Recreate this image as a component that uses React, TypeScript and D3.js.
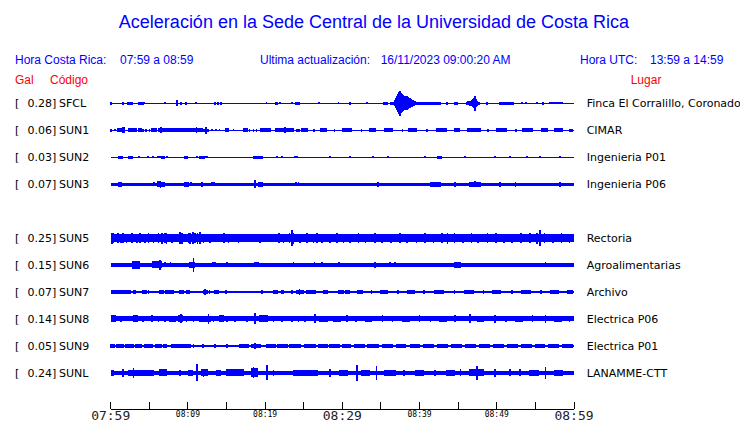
import React from 'react';
import * as d3 from 'd3';

// ---- data ----
const CODES = ['SFCL', 'SUN1', 'SUN2', 'SUN3', 'SUN5', 'SUN6', 'SUN7', 'SUN8', 'SUN9', 'SUNL'];
const ROWS = [0, 1, 2, 3, 5, 6, 7, 8, 9, 10];
const GAL = [0.28, 0.06, 0.03, 0.07, 0.25, 0.15, 0.07, 0.14, 0.05, 0.24];
const PLACES = ['Finca El Corralillo, Coronado', 'CIMAR', 'Ingenieria P01', 'Ingenieria P06', 'Rectoria',
  'Agroalimentarias', 'Archivo', 'Electrica P06', 'Electrica P01', 'LANAMME-CTT'];
// continuous noise level (half amplitude) per trace
const BASE = [0.5, 0.7, 0.5, 1.5, 3.6, 1.6, 1.3, 2.4, 0.8, 2.1];

// bursts: [minute, amplitude]  or [start minute, end minute, amplitude]
type Ev = number[];
const SFCL_EV: Ev[] = [
  [0.0, 1.5], [1.6, 1.2], [2.2, 2.6, 1.3], [2.8, 1.2], [3.7, 3.9, 1.3], [4.2, 1.2], [4.4, 1.0], [7.0, 1.0],
  [8.6, 3.0], [9.1, 1.2], [9.75, 1.2], [11.05, 1.0], [13.5, 1.5], [13.9, 1.5], [14.3, 1.5], [17.1, 0.8],
  [17.4, 0.8], [20.2, 1.0], [21.4, 21.5, 1.3], [21.9, 1.0], [23.5, 1.0], [24.0, 24.4, 1.5],
  [27.0, 1.0], [29.5, 1.0], [31.0, 1.2], [33.2, 1.0],
  [35.4, 35.8, 1.3], [36.3, 36.6, 1.3],
  [36.83, 3], [36.96, 5], [37.09, 7], [37.22, 9], [37.35, 11], [37.48, 12.5], [37.61, 10], [37.74, 9],
  [37.87, 8], [38.0, 7], [38.13, 6], [38.26, 7], [38.39, 7], [38.51, 6], [38.64, 5], [38.77, 5],
  [38.9, 4], [39.03, 3.5], [39.16, 3], [39.29, 2.5], [39.42, 2],
  [39.7, 42.7, 1.3], [43.56, 1.2], [44.6, 44.85, 1.3],
  [46.15, 1.5], [46.3, 2], [46.5, 2.5], [46.8, 3], [46.9, 4], [47.05, 5], [47.2, 7.5], [47.3, 4], [47.45, 2.5],
  [47.7, 1.5], [48.75, 1.3], [50.4, 52.1, 1.3], [53.3, 1.0], [53.8, 1.0], [55.2, 1.0], [56.0, 1.2], [56.9, 58.5, 1.0],
];
const SUN1_EV: Ev[] = [
  [0, 0.1, 1.5], [0.56, 1.2], [0.86, 1.42, 1.8], [1.55, 1.72, 3], [2.28, 3.28, 1.8], [3.7, 4.0, 1.8], [4.2, 1.5],
  [4.57, 1.5], [5.0, 1.5], [5.3, 5.87, 1.8], [6.17, 6.8, 2.2], [6.5, 3], [7.03, 10.05, 1.8], [10.27, 11.8, 2],
  [11.1, 3], [12.1, 1.5], [12.35, 3.5], [12.6, 1.5], [13.1, 1.2], [13.6, 1.2], [14.1, 1.2], [14.9, 15.2, 1.8],
  [15.9, 1.2], [17.3, 17.7, 1.8], [17.95, 1.5], [18.5, 1.5], [18.9, 1.5], [19.5, 20.1, 1.8], [20.4, 20.7, 1.8],
  [21.4, 23.65, 1.8], [22.6, 2.8], [24.1, 1.5], [24.35, 1.5],
  [24.8, 25.5, 1.8], [26.3, 1.5], [27.2, 27.9, 1.8], [29.0, 1.5], [30.0, 31.2, 1.8], [32.5, 1.5], [33.6, 34.3, 1.8],
  [35.5, 36.5, 1.8], [37.8, 1.5], [38.6, 39.6, 1.8], [41.0, 1.5], [42.2, 43.4, 1.8], [44.6, 45.1, 1.8],
  [46.3, 47.8, 2], [48.9, 1.5], [50.0, 51.2, 1.8], [52.5, 1.5], [53.4, 54.6, 1.8], [55.8, 56.5, 1.8],
  [57.5, 58.5, 1.8], [59.4, 59.8, 1.5],
];
const SUN2_EV: Ev[] = [
  [1.09, 1.46, 1.5], [2.37, 2.76, 1.5], [3.67, 1.2], [4.83, 1.2], [5.48, 1], [6.13, 6.39, 1.3], [6.64, 6.9, 1.5],
  [7.3, 1], [9.62, 9.88, 1.5], [11.2, 1.2], [11.57, 12.09, 1.5], [12.35, 1.2], [12.47, 1.2], [18.57, 18.96, 1.5],
  [19.2, 19.6, 1.5], [21.5, 1], [22.2, 1], [23.87, 24.1, 1.3],
  [28.4, 1.2], [31.0, 1.2], [34.0, 1.3], [35.9, 1.2], [40.7, 1.2], [42.4, 42.8, 1.5], [45.9, 1.2], [49.8, 1.2],
  [51.7, 1.2], [53.9, 1.3], [55.6, 1.2], [58.2, 1.3],
];
const SUN3_EV: Ev[] = [
  [1.07, 2.5], [1.33, 2.5], [5.6, 2], [6.13, 6.39, 3], [6.64, 6.9, 2.5], [6.45, 3.5], [9.6, 9.9, 2.5],
  [10.1, 2.5], [10.4, 2], [11.8, 2.5], [13.1, 2], [13.4, 2], [18.7, 4], [19.2, 19.6, 2.5], [24.0, 2], [24.3, 2],
  [34.6, 2.5], [41.4, 42.7, 2.5], [44.6, 2.5], [46.5, 47.8, 2.5], [47.2, 3], [50.4, 2.5], [52.4, 2.5], [58.2, 2.5],
];
const SUN5_EV: Ev[] = [
  [0.13, 5.5], [0.34, 5], [0.98, 5], [1.3, 4.5], [1.63, 5], [2.07, 4.5], [2.72, 5], [3.37, 4.5], [3.8, 5],
  [4.44, 4.5], [4.87, 5], [5.52, 4.5], [6.17, 5], [6.61, 5.5], [7.03, 5], [7.25, 5.5], [7.9, 4.5], [8.98, 6],
  [9.2, 5.5], [10.05, 5], [10.27, 5.5], [10.62, 6], [10.92, 5], [11.22, 5.5], [11.57, 6], [12.0, 4.5],
  [12.86, 4.5], [13.51, 4], [14.68, 5], [15.23, 4.5], [15.88, 4], [16.53, 4.5], [17.18, 4], [17.82, 4],
  [18.69, 4], [19.34, 4.5], [20.41, 4], [21.8, 5], [22.36, 4.5], [23.13, 5], [23.45, 8], [23.65, 5.5],
  [24.52, 4.5], [25.39, 5], [26.24, 4.5], [26.68, 5], [27.33, 4.5], [28.41, 4.5], [29.27, 5], [30.13, 4.5],
  [31.0, 4.5], [32.1, 5], [33.0, 4.5], [34.2, 5], [35.1, 4.5], [36.3, 4.5], [37.5, 5], [38.4, 4.5], [39.6, 4.5],
  [40.7, 5], [41.8, 4.5], [42.9, 5], [43.6, 5.5], [44.5, 5], [45.6, 4.5], [46.7, 5], [47.6, 4.5], [48.8, 5],
  [49.9, 5], [50.9, 4.5], [52.0, 4.5], [53.1, 5], [54.3, 5], [55.2, 5.5], [55.6, 8], [56.2, 5], [57.3, 4.5],
  [58.4, 5], [59.4, 4.5],
];
const SUN6_EV: Ev[] = [
  [2.07, 2.3], [2.41, 2], [2.89, 3.15, 4], [3.41, 3.67, 4], [5.44, 5.61, 3.5], [5.87, 6.48, 3.5], [6.39, 5],
  [7.03, 2.5], [7.77, 2.5], [8.98, 2.3], [9.62, 2.3], [10.27, 10.79, 3], [10.7, 7], [11.96, 2.3], [12.44, 2.3],
  [13.25, 13.51, 2.5], [14.5, 2.3], [15.03, 2.5], [16.66, 2.3], [18.69, 19.08, 2.5], [22.15, 2.3], [23.65, 2.5],
  [26.37, 2.5], [27.33, 2.5], [27.98, 2.3], [29.6, 2.5],
  [34.2, 3], [36.2, 2.5], [36.8, 2.5], [44.6, 45.2, 3], [47.6, 2.3], [48.7, 2.3], [51.7, 2.3], [53.0, 2.3], [56.3, 2.5],
];
const SUN7_EV: Ev[] = [
  [0.13, 1.2, 2.2], [1.42, 1.63, 2.2], [1.85, 2.5, 2.2], [2.93, 3.15, 2.2], [4.22, 4.66, 2.2], [4.87, 2],
  [6.39, 6.81, 2.2], [7.16, 8.03, 2.2], [8.98, 9.4, 2.2], [9.92, 10.18, 2.2], [12.09, 12.44, 2.2], [12.2, 3],
  [12.77, 2], [13.51, 13.94, 2.2], [14.94, 2.2], [19.56, 2], [21.06, 21.5, 2], [22.15, 22.36, 2], [23.45, 2],
  [24.1, 24.95, 2.2], [24.43, 3], [25.39, 26.46, 2.2], [27.54, 27.98, 2.2], [29.6, 30.05, 2.2], [30.48, 30.91, 2.2],
  [32.0, 32.6, 2.2], [33.8, 2.2], [35.0, 35.8, 2.2], [37.2, 2.2], [38.5, 39.3, 2.2], [40.6, 2.2], [42.0, 43.0, 2.2],
  [44.5, 2.2], [45.8, 46.9, 2.2], [48.3, 2.2], [49.5, 50.4, 2.2], [52.0, 2.2], [53.3, 54.3, 2.2], [55.7, 2.2],
  [57.0, 58.0, 2.2], [59.2, 59.8, 2.2],
];
const SUN8_EV: Ev[] = [
  [0.13, 0.56, 3.5], [1.3, 3], [2.93, 3.37, 3.5], [4.22, 3], [5.31, 3.5], [6.17, 3], [7.03, 3], [7.68, 8.33, 3.2],
  [8.76, 9.2, 3.5], [9.07, 4.5], [9.84, 3], [10.7, 3], [11.57, 12.86, 3.2], [12.65, 5], [13.29, 3],
  [14.16, 14.59, 3.5], [15.03, 3], [16.1, 3], [17.62, 3], [18.69, 5.5], [19.34, 20.21, 3.5], [21.06, 3],
  [22.15, 3], [23.45, 3], [24.3, 3], [25.17, 3], [26.46, 4.5], [27.11, 27.98, 3.2], [28.83, 29.7, 3.2], [30.57, 3.5],
  [31.8, 3.2], [33.0, 33.8, 3.2], [35.2, 3.5], [36.5, 3.2], [37.8, 38.6, 3.2], [40.0, 3.5], [41.4, 3.2],
  [42.6, 43.5, 3.2], [44.6, 3.5], [46.5, 4.5], [47.5, 48.3, 3.2], [49.8, 4], [51.2, 3.2], [52.5, 53.3, 3.2],
  [54.6, 3.5], [56.3, 4], [57.5, 58.3, 3.2], [59.4, 3.2],
];
const SUN9_EV: Ev[] = [
  [0.0, 0.5, 1.8], [0.8, 1.6, 1.8], [2.0, 2.9, 1.8], [3.3, 4.0, 1.8], [4.4, 5.4, 1.8], [5.8, 6.6, 1.8],
  [6.9, 7.25, 1.8], [7.9, 8.7, 1.8], [9.0, 10.27, 1.8], [10.7, 1.8], [11.96, 1.8], [13.5, 1.8], [15.03, 1.8],
  [16.75, 17.82, 1.8], [18.26, 19.34, 2], [18.69, 3], [20.2, 21.3, 1.8], [21.7, 22.8, 1.8], [23.2, 24.5, 1.8],
  [25.2, 26.5, 1.8], [26.9, 28.0, 1.8], [28.4, 29.6, 1.8], [30.0, 31.0, 1.8],
  [31.6, 32.8, 1.8], [33.3, 34.6, 1.8], [35.2, 36.4, 1.8], [37.0, 38.2, 1.8], [38.8, 40.0, 1.8], [40.6, 41.8, 1.8],
  [42.4, 43.6, 1.8], [44.2, 45.4, 1.8], [46.0, 47.2, 1.8], [47.8, 49.0, 1.8], [49.6, 50.8, 1.8], [51.4, 52.6, 1.8],
  [53.2, 54.4, 1.8], [55.0, 56.2, 1.8], [56.8, 58.0, 1.8], [58.6, 59.8, 1.8],
];
const SUNL_EV: Ev[] = [
  [0.13, 0.34, 3], [1.63, 4], [2.28, 4.22, 3], [2.93, 5], [4.22, 5.52, 3], [6.3, 7.25, 3.5], [8.98, 3],
  [10.05, 10.49, 3], [11.14, 8.5], [11.79, 12.44, 3.5], [12.0, 4], [13.73, 14.16, 3], [15.03, 17.18, 3.5],
  [18.26, 18.91, 4.5], [18.47, 5.5], [20.21, 7.5], [21.06, 3], [23.65, 26.68, 3], [28.41, 4], [29.7, 30.57, 3],
  [31.9, 8], [32.5, 33.5, 3], [34.4, 7], [35.5, 36.8, 3], [38.0, 3], [39.5, 40.5, 3], [42.0, 3], [43.5, 44.5, 3],
  [45.3, 3.5], [46.5, 48.2, 3.5], [47.4, 7], [49.8, 4], [51.7, 3.5], [53.0, 3.5], [54.3, 55.3, 3], [56.3, 6],
  [57.5, 58.5, 3],
];
const EVENTS = [SFCL_EV, SUN1_EV, SUN2_EV, SUN3_EV, SUN5_EV, SUN6_EV, SUN7_EV, SUN8_EV, SUN9_EV, SUNL_EV];

const TICK_MINUTES = d3.range(0, 61, 5);
const MAJOR_LABELS: [number, string][] = [[0, '07:59'], [30, '08:29'], [60, '08:59']];
const MINOR_LABELS: [number, string][] = [[10, '08:09'], [20, '08:19'], [40, '08:39'], [50, '08:49']];

const TITLE = 'Aceleración en la Sede Central de la Universidad de Costa Rica';

export default function App() {
  const W = 740, H = 423;
  const x = d3.scaleLinear().domain([0, 60]).range([110.7, 574]);
  const y = d3.scalePoint<number>().domain(d3.range(11)).range([103.3, 372.7]);
  const amp = d3.scaleLinear().domain([0, 14]).range([0, 14]);
  const blue = '#0000ff';
  const red = '#ff0000';
  const sans = '"Liberation Sans", Arial, sans-serif';
  const dv = '"DejaVu Sans", sans-serif';
  const mono = '"DejaVu Sans Mono", monospace';
  const axisY = 409;

  return (
    <svg width={W} height={H} style={{ position: 'absolute', left: 0, top: 0, background: '#fff' }}>
      <rect x={0} y={0} width={W} height={H} fill="#fff" />
      <text x={374} y={28} textAnchor="middle" fontFamily={sans} fontSize={18} fill={blue}>{TITLE}</text>
      <g fontFamily={sans} fontSize={12} fill={blue}>
        <text x={15} y={64}>Hora Costa Rica:</text>
        <text x={120} y={64}>07:59 a 08:59</text>
        <text x={260} y={64}>Ultima actualización:</text>
        <text x={380.7} y={64}>16/11/2023 09:00:20 AM</text>
        <text x={580} y={64}>Hora UTC:</text>
        <text x={650} y={64}>13:59 a 14:59</text>
      </g>
      <g fontFamily={sans} fontSize={12} fill={red}>
        <text x={15} y={84}>Gal</text>
        <text x={50} y={84}>Código</text>
        <text x={630.7} y={84}>Lugar</text>
      </g>
      {CODES.map((code, i) => {
        const cy = y(ROWS[i]) as number;
        const b = Math.max(amp(BASE[i]), 0.5);
        return (
          <g key={code}>
            <text x={15} y={cy + 4} fontFamily={dv} fontSize={11} fill="#000">[</text>
            <text x={27.5} y={cy + 4} fontFamily={dv} fontSize={11} fill="#000">{GAL[i].toFixed(2) + ']'}</text>
            <text x={59} y={cy + 4} fontFamily={dv} fontSize={11} fill="#000">{code}</text>
            <text x={586.7} y={cy + 4} fontFamily={dv} fontSize={11} fill="#000">{PLACES[i]}</text>
            <g fill={blue} shapeRendering="crispEdges">
              <rect x={x(0)} y={cy - b} width={x(60) - x(0)} height={2 * b} />
              {EVENTS[i].map((e, j) => {
                const m0 = e[0];
                const m1 = e.length === 3 ? e[1] : e[0];
                const a = amp(e[e.length - 1]);
                return <rect key={j} x={x(m0) - 0.8} y={cy - a} width={x(m1) - x(m0) + 1.6} height={2 * a} />;
              })}
            </g>
          </g>
        );
      })}
      <g stroke="#000" strokeWidth={1} shapeRendering="crispEdges">
        <line x1={x(0)} x2={x(60)} y1={axisY} y2={axisY} />
        {TICK_MINUTES.map((m) => (
          <line key={m} x1={x(m)} x2={x(m)} y1={axisY} y2={axisY - 7} />
        ))}
      </g>
      <g fontFamily={mono} fill="#000" textAnchor="middle">
        {MAJOR_LABELS.map(([m, t]) => (
          <text key={t} x={x(m)} y={420} fontSize={13} fill="#222">{t}</text>
        ))}
        {MINOR_LABELS.map(([m, t]) => (
          <text key={t} x={x(m)} y={417} fontSize={8}>{t}</text>
        ))}
      </g>
    </svg>
  );
}
